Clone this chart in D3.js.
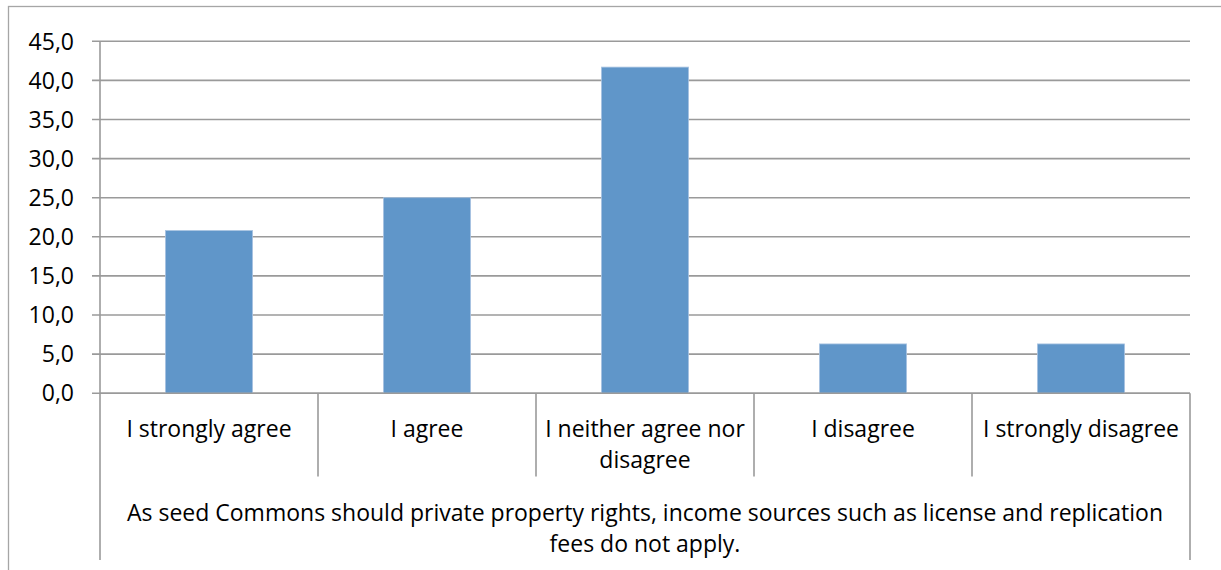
<!DOCTYPE html>
<html>
<head>
<meta charset="utf-8">
<script src="https://cdn.jsdelivr.net/npm/d3@7"></script>
<style>
  html, body { margin: 0; padding: 0; background: #fff; }
  svg { display: block; font-family: "Open Sans", "Noto Sans", sans-serif; }
</style>
</head>
<body>
<svg id="chart" width="1221" height="570"></svg>
<script>
// Survey responses (percent of respondents)
const categories = ["I strongly agree", "I agree", "I neither agree nor disagree", "I disagree", "I strongly disagree"];
const categoryLines = [["I strongly agree"], ["I agree"], ["I neither agree nor", "disagree"], ["I disagree"], ["I strongly disagree"]];
const values = [20.8, 25.0, 41.7, 6.3, 6.3];
const yTicks = [0, 5, 10, 15, 20, 25, 30, 35, 40, 45];
const groupTitle = ["As seed Commons should private property rights, income sources such as license and replication", "fees do not apply."];

const svg = d3.select("#chart");
const W = 1221, H = 570;
const plotLeft = 100, plotRight = 1190, plotTop = 41.3, zeroY = 393.2;

const gridColor = "#9a9a9a";
const barColor = "#6096c9";
const fontSize = 23;

// chart frame
svg.append("rect")
  .attr("x", 8.5).attr("y", 6.5)
  .attr("width", W + 10).attr("height", H + 10)
  .attr("fill", "none").attr("stroke", "#a6a6a6").attr("stroke-width", 1.3);

const y = d3.scaleLinear().domain([0, 45]).range([zeroY, plotTop]);

// bars: gap width 150% of bar width
const x = d3.scaleBand().domain(categories).range([plotLeft, plotRight])
  .paddingInner(0.6).paddingOuter(0.3);
// category cells for the axis separators
const xCell = d3.scaleBand().domain(categories).range([plotLeft, plotRight]).padding(0);

// horizontal gridlines with outward ticks
svg.append("g").selectAll("line").data(yTicks).join("line")
  .attr("x1", plotLeft - 8).attr("x2", plotRight)
  .attr("y1", d => y(d)).attr("y2", d => y(d))
  .attr("stroke", gridColor).attr("stroke-width", 1.6);

// y tick labels
svg.append("g").selectAll("text").data(yTicks).join("text")
  .attr("x", 74).attr("y", d => y(d))
  .attr("dy", "0.36em")
  .attr("text-anchor", "end")
  .attr("font-size", fontSize)
  .attr("fill", "#000")
  .text(d => d3.format(".1f")(d).replace(".", ","));

// value axis line
svg.append("line")
  .attr("x1", plotLeft).attr("x2", plotLeft)
  .attr("y1", plotTop).attr("y2", zeroY)
  .attr("stroke", gridColor).attr("stroke-width", 1.6);

// bars
svg.append("g").selectAll("rect").data(values).join("rect")
  .attr("x", (d, i) => x(categories[i]))
  .attr("width", x.bandwidth())
  .attr("y", d => y(d))
  .attr("height", d => y(0) - y(d))
  .attr("fill", barColor)
  .attr("stroke", "#a9c4e2").attr("stroke-width", 0.8);

// category axis baseline
svg.append("line")
  .attr("x1", plotLeft).attr("x2", plotRight)
  .attr("y1", zeroY).attr("y2", zeroY)
  .attr("stroke", gridColor).attr("stroke-width", 1.6);

// category separators: inner ones stop above the group label, outer ones run to the bottom
const boundaries = categories.map(c => xCell(c)).concat([plotRight]);
svg.append("g").selectAll("line").data(boundaries).join("line")
  .attr("x1", d => d).attr("x2", d => d)
  .attr("y1", zeroY)
  .attr("y2", (d, i) => (i === 0 || i === boundaries.length - 1) ? 560 : 476.5)
  .attr("stroke", gridColor).attr("stroke-width", 1.6);

// category labels
const catG = svg.append("g");
categoryLines.forEach((lines, i) => {
  const cx = xCell(categories[i]) + xCell.bandwidth() / 2;
  lines.forEach((ln, j) => {
    catG.append("text")
      .attr("x", cx).attr("y", 437 + j * 31)
      .attr("text-anchor", "middle")
      .attr("font-size", fontSize)
      .attr("fill", "#000")
      .text(ln);
  });
});

// group label under the categories
groupTitle.forEach((ln, j) => {
  svg.append("text")
    .attr("x", (plotLeft + plotRight) / 2).attr("y", 521 + j * 31)
    .attr("text-anchor", "middle")
    .attr("font-size", fontSize)
    .attr("fill", "#000")
    .text(ln);
});
</script>
</body>
</html>
